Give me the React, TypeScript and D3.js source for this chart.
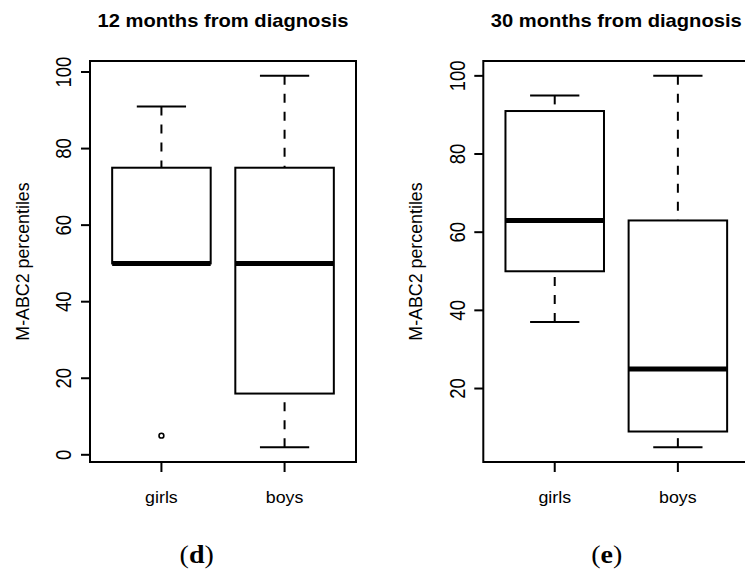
import * as d3 from "d3";

// five-number summaries: [lower whisker, Q1, median, Q3, upper whisker]
const groups = ["girls", "boys"];
const stats12Girls = [50, 50, 50, 75, 91];
const stats12Boys = [2, 16, 50, 75, 99];
const outliers12Girls = [5];
const outliers12Boys: number[] = [];
const stats30Girls = [37, 50, 63, 91, 95];
const stats30Boys = [5, 9, 25, 63, 100];
const outliers30Girls: number[] = [];
const outliers30Boys: number[] = [];
const yTicks12 = [0, 20, 40, 60, 80, 100];
const yTicks30 = [20, 40, 60, 80, 100];

const panels = [
  {
    title: "12 months from diagnosis",
    tag: "d",
    stats: [stats12Girls, stats12Boys],
    outliers: [outliers12Girls, outliers12Boys],
    ticks: yTicks12,
  },
  {
    title: "30 months from diagnosis",
    tag: "e",
    stats: [stats30Girls, stats30Boys],
    outliers: [outliers30Girls, outliers30Boys],
    ticks: yTicks30,
  },
];

const W = 745;
const H = 579;
const frameW = 266;
const frameTop = 61;
const frameBottom = 462;
const frameLefts = [90, 483.3];
const tagX = [196.7, 606.7];
const font = "Arial, 'Liberation Sans', sans-serif";

type PanelProps = {
  left: number;
  title: string;
  tag: string;
  tx: number;
  stats: number[][];
  outliers: number[][];
  ticks: number[];
};

const Panel = ({ left, title, tag, tx, stats, outliers, ticks }: PanelProps) => {
  const right = left + frameW;
  // R style: 4% padding on the data range
  const all = stats.flat().concat(outliers.flat());
  const [lo, hi] = d3.extent(all) as [number, number];
  const pad = (hi - lo) * 0.04;
  const y = d3.scaleLinear().domain([lo - pad, hi + pad]).range([frameBottom, frameTop]);
  const x = d3.scaleLinear().domain([0.42, 2.58]).range([left, right]);
  const boxW = x(1.4) - x(0.6); // boxwex 0.8
  const capW = x(1.2) - x(1); // half staple
  const midY = (frameTop + frameBottom) / 2;

  return (
    <g>
      <text
        transform={`translate(${(left + right) / 2},27) scale(1.12,1)`}
        textAnchor="middle"
        fontFamily={font}
        fontWeight="bold"
        fontSize={18}
        fill="#000"
      >
        {title}
      </text>

      <text
        transform={`translate(${left - 68},${midY}) scale(1.05,1) rotate(-90)`}
        textAnchor="middle"
        dominantBaseline="central"
        fontFamily={font}
        fontSize={17.8}
        fill="#000"
      >
        M-ABC2 percentiles
      </text>

      {ticks.map((t) => (
        <g key={t}>
          <line x1={left - 9} x2={left} y1={y(t)} y2={y(t)} stroke="#000" strokeWidth={2} />
          <text
            transform={`translate(${left - 26},${y(t)}) scale(1.15,1) rotate(-90)`}
            textAnchor="middle"
            dominantBaseline="central"
            fontFamily={font}
            fontSize={18.5}
            fill="#000"
          >
            {t}
          </text>
        </g>
      ))}

      {groups.map((g, i) => {
        const cx = x(i + 1);
        const [wLo, q1, med, q3, wHi] = stats[i];
        return (
          <g key={g}>
            <line x1={cx} x2={cx} y1={frameBottom} y2={frameBottom + 10} stroke="#000" strokeWidth={2} />
            <text
              transform={`translate(${cx},503) scale(1.08,1)`}
              textAnchor="middle"
              fontFamily={font}
              fontSize={16.5}
              fill="#000"
            >
              {g}
            </text>
            {/* whiskers, drawn from the end towards the hinge */}
            <line x1={cx} x2={cx} y1={y(wHi)} y2={y(q3)} stroke="#000" strokeWidth={2} strokeDasharray="9,9" />
            <line x1={cx} x2={cx} y1={y(wLo)} y2={y(q1)} stroke="#000" strokeWidth={2} strokeDasharray="9,9" />
            <line x1={cx - capW} x2={cx + capW} y1={y(wHi)} y2={y(wHi)} stroke="#000" strokeWidth={2} />
            <line x1={cx - capW} x2={cx + capW} y1={y(wLo)} y2={y(wLo)} stroke="#000" strokeWidth={2} />
            <rect
              x={cx - boxW / 2}
              y={y(q3)}
              width={boxW}
              height={y(q1) - y(q3)}
              fill="#fff"
              stroke="#000"
              strokeWidth={2}
            />
            <line x1={cx - boxW / 2} x2={cx + boxW / 2} y1={y(med)} y2={y(med)} stroke="#000" strokeWidth={5} />
            {outliers[i].map((o, k) => (
              <circle key={k} cx={cx} cy={y(o)} r={2.4} fill="none" stroke="#000" strokeWidth={1.6} />
            ))}
          </g>
        );
      })}

      <rect
        x={left}
        y={frameTop}
        width={frameW}
        height={frameBottom - frameTop}
        fill="none"
        stroke="#000"
        strokeWidth={2}
      />

      <text
        transform={`translate(${tx},563) scale(1.12,1)`}
        textAnchor="middle"
        fontFamily="'Liberation Serif', 'DejaVu Serif', serif"
        fontSize={25}
        fill="#000"
      >
        (<tspan fontWeight="bold">{tag}</tspan>)
      </text>
    </g>
  );
};

export default function App() {
  return (
    <svg
      width={W}
      height={H}
      style={{ position: "absolute", left: 0, top: 0, background: "#fff", display: "block" }}
    >
      <rect width={W} height={H} fill="#fff" />
      {panels.map((p, i) => (
        <Panel
          key={p.tag}
          left={frameLefts[i]}
          tx={tagX[i]}
          title={p.title}
          tag={p.tag}
          stats={p.stats}
          outliers={p.outliers}
          ticks={p.ticks}
        />
      ))}
    </svg>
  );
}
